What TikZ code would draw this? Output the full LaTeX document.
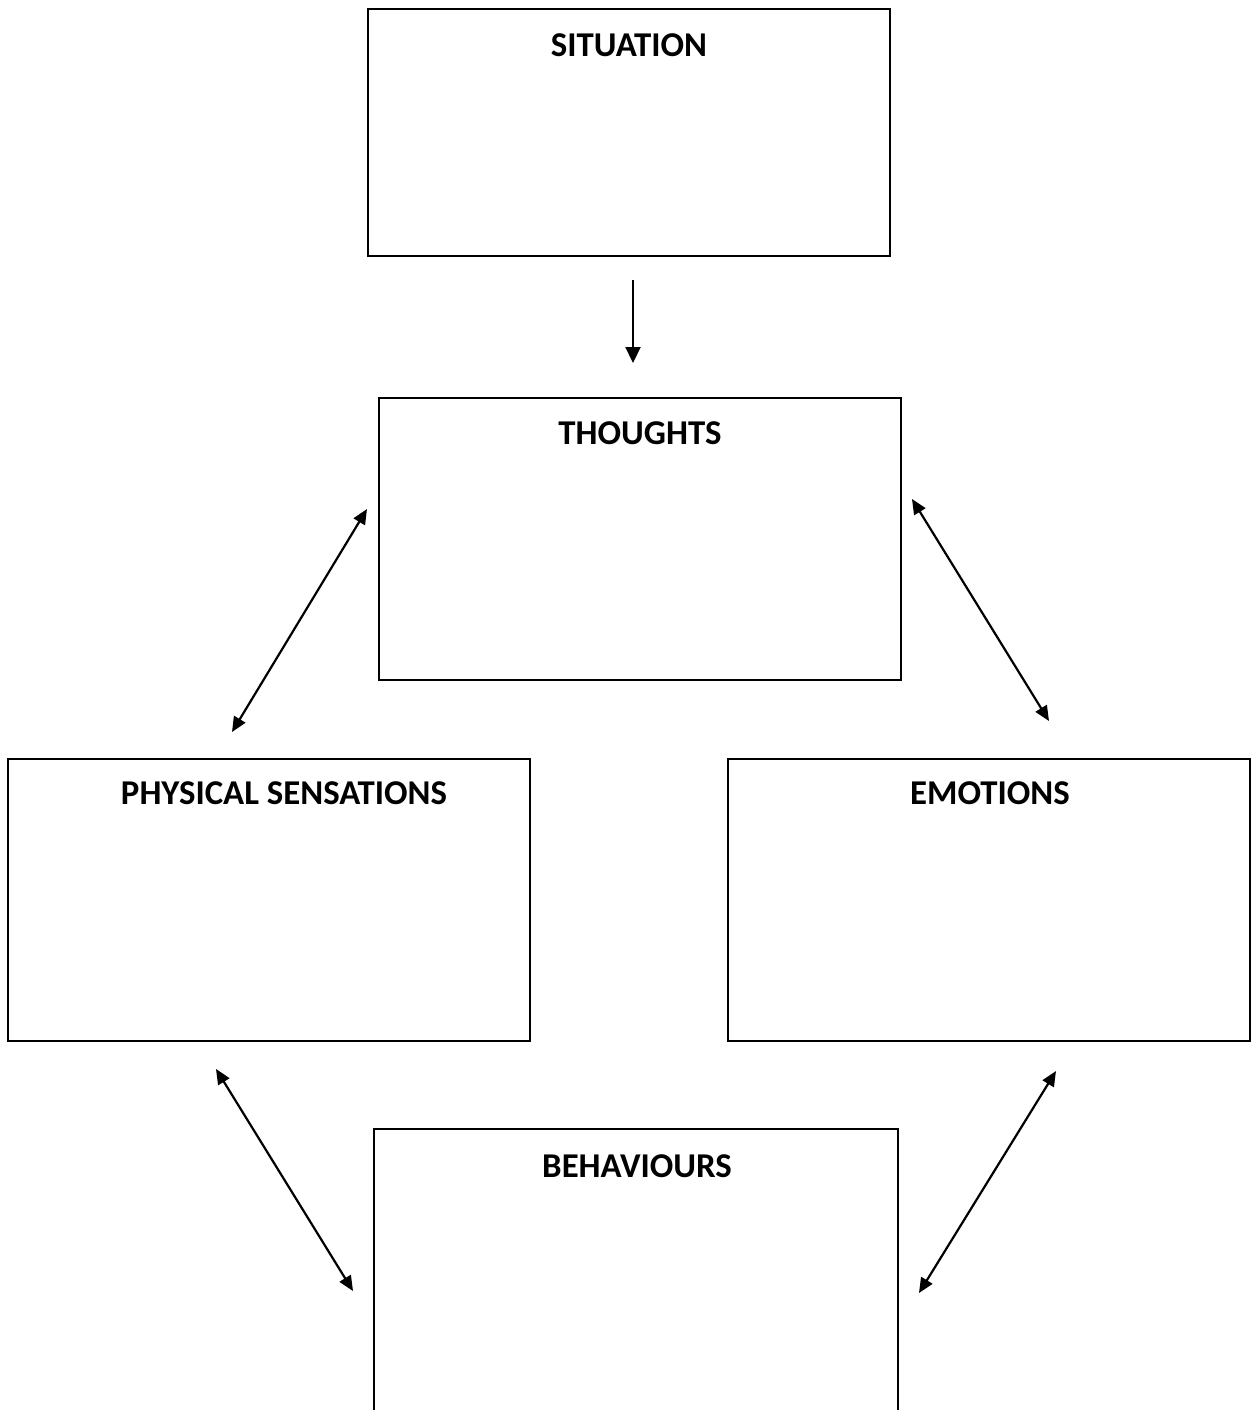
\documentclass[tikz,border=0pt]{standalone}
\usepackage{fontspec}
\setmainfont{Carlito}
\usepackage{tikz}
\usetikzlibrary{arrows.meta,positioning}
\tikzset{
  cbtbox/.style = {rectangle, draw, line width=0.9pt, minimum width=261pt, minimum height=141pt, inner sep=0pt},
  cbttitle/.style = {font=\bfseries\fontsize{17.4}{20}\selectfont, inner sep=0pt, anchor=center},
  cbtarrow/.style = {-{Triangle[length=8pt,width=7.5pt]}, line width=1.1pt},
  cbtboth/.style = {{Triangle[length=7.5pt,width=6.5pt]}-{Triangle[length=7.5pt,width=6.5pt]}, line width=1.1pt},
}
\begin{document}
\begin{tikzpicture}[x=0.5pt,y=-0.5pt]
\useasboundingbox (0,0) rectangle (1252,1410);
% boxes
\node[cbtbox, minimum height=123.5pt] (situation) at (629,132.5) {};
\node[cbtbox] (thoughts) at (640,539) {};
\node[cbtbox] (physical) at (269,900) {};
\node[cbtbox] (emotions) at (989,900) {};
\node[cbtbox, draw=none] (behaviours) at (636,1271) {};
\draw[line width=0.9pt] (behaviours.south west) |- (behaviours.north east) -- (behaviours.south east);
% titles
\node[cbttitle] (situationtitle) at (629,45) {SITUATION};
\node[cbttitle] (thoughtstitle) at (640,433) {THOUGHTS};
\node[cbttitle] (physicaltitle) at (284,793) {PHYSICAL SENSATIONS};
\node[cbttitle] (emotionstitle) at (990,793) {EMOTIONS};
\node[cbttitle] (behaviourstitle) at (637,1166) {BEHAVIOURS};
% arrow ends
\coordinate (sitout) at (633,280);
\coordinate (thoin) at (633,363);
\coordinate (tholeft) at (367,509);
\coordinate (phytop) at (232,732);
\coordinate (thoright) at (912,499);
\coordinate (emotop) at (1049,721);
\coordinate (phybot) at (216,1069);
\coordinate (behleft) at (353,1291);
\coordinate (emobot) at (1056,1071);
\coordinate (behright) at (919,1293);
% connectors
\draw[cbtarrow] (sitout) -- (thoin);
\draw[cbtboth] (tholeft) -- (phytop);
\draw[cbtboth] (thoright) -- (emotop);
\draw[cbtboth] (phybot) -- (behleft);
\draw[cbtboth] (emobot) -- (behright);
\end{tikzpicture}
\end{document}
